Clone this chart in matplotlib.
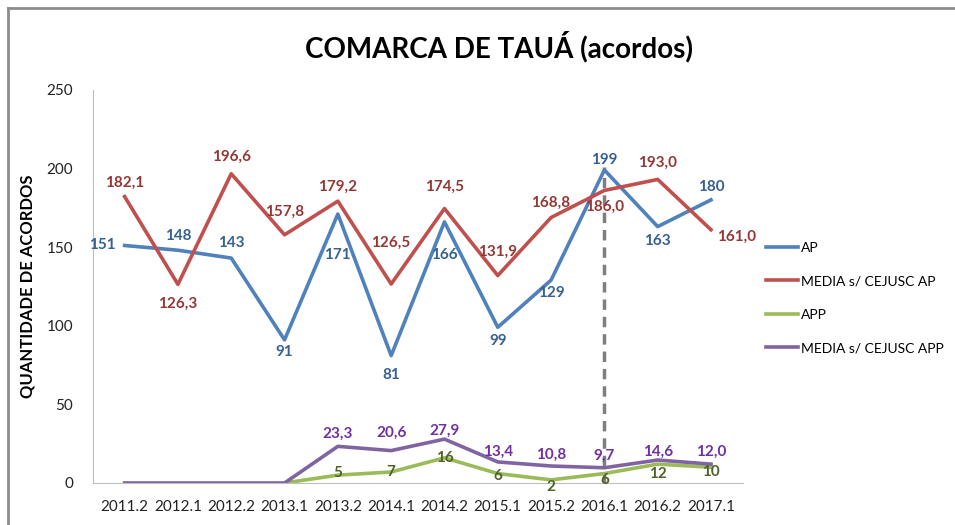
import matplotlib.pyplot as plt
import numpy as np
from matplotlib.lines import Line2D

plt.rcParams['font.family'] = ['Lato', 'DejaVu Sans']

periodos = ['2011.2', '2012.1', '2012.2', '2013.1', '2013.2', '2014.1', '2014.2',
            '2015.1', '2015.2', '2016.1', '2016.2', '2017.1']
ap = [151, 148, 143, 91, 171, 81, 166, 99, 129, 199, 163, 180]
media_ap = [182.1, 126.3, 196.6, 157.8, 179.2, 126.5, 174.5, 131.9, 168.8, 186.0, 193.0, 161.0]
app = [np.nan, np.nan, np.nan, 0, 5, 7, 16, 6, 2, 6, 12, 10]
media_app = [0, 0, 0, 0, 23.3, 20.6, 27.9, 13.4, 10.8, 9.7, 14.6, 12.0]

# deslocamento dos rotulos (dx, dy) em pixels
pos_ap = [(-22, 0), (0, 14), (0, 15), (0, -12), (0, -41), (0, -19), (0, -33),
          (0, -14), (0, -13), (0, 10), (0, -14), (0, 13)]
pos_map = [(0, 14), (0, -19), (0, 17), (0, 23), (0, 14), (0, 41), (0, 22),
           (0, 24), (0, 15), (0, -16), (0, 17), (26, -7)]
pos_app = [None, None, None, None, (0, 2), (0, 0), (0, 0), (0, -2), (0, -7),
           (0, -6), (0, -10), (0, -5)]
pos_mapp = [None, None, None, None, (0, 13), (0, 18), (0, 8), (0, 10), (0, 11),
            (0, 12), (0, 8), (0, 12)]

fig = plt.figure(figsize=(9.55, 5.25), dpi=100)
ax = fig.add_axes([0.097, 0.08, 0.681, 0.749])
x = np.arange(len(periodos))

ax.plot(x, ap, color='#4F81BD', lw=2.6, label='AP')
ax.plot(x, media_ap, color='#C0504D', lw=2.6, label='MEDIA s/ CEJUSC AP')
ax.plot(x, app, color='#9BBB59', lw=2.6, label='APP')
ax.plot(x, media_app, color='#8064A2', lw=2.6, label='MEDIA s/ CEJUSC APP')

ax.plot([9, 9], [0, 201], color='#7F7F7F', lw=2.5, ls=(0, (3, 2)), zorder=1)

lab = dict(fontsize=11, fontweight='bold', ha='center', va='center',
           textcoords='offset pixels')
for i, v in enumerate(ap):
    ax.annotate(f'{v}', (i, v), xytext=pos_ap[i], color='#376092', **lab)
for i, v in enumerate(media_ap):
    ax.annotate(f'{v:.1f}'.replace('.', ','), (i, v), xytext=pos_map[i],
                color='#953735', **lab)
for i, v in enumerate(app):
    if pos_app[i] is None:
        continue
    ax.annotate(f'{v:g}', (i, v), xytext=pos_app[i], color='#4F6228', **lab)
for i, v in enumerate(media_app):
    if pos_mapp[i] is None:
        continue
    ax.annotate(f'{v:.1f}'.replace('.', ','), (i, v), xytext=pos_mapp[i],
                color='#7030A0', **lab)

ax.set_xlim(-0.6, 11.6)
ax.set_ylim(0, 250)
ax.set_yticks(range(0, 251, 50))
ax.set_xticks(x)
ax.set_xticklabels(periodos)
ax.tick_params(length=0, labelsize=11, colors='#222222')
ax.tick_params(axis='y', pad=14)
ax.tick_params(axis='x', pad=12)
for s in ['top', 'right']:
    ax.spines[s].set_visible(False)
for s in ['left', 'bottom']:
    ax.spines[s].set_color('#BFBFBF')

ax.set_ylabel('QUANTIDADE DE ACORDOS', fontsize=12, fontweight='bold', labelpad=8)
fig.text(0.523, 0.912, 'COMARCA DE TAUÁ (acordos)', fontsize=20, fontweight='bold',
         ha='center', va='center')

ax.legend(loc='center left', frameon=False, fontsize=10, handlelength=2.3,
          labelspacing=1.55, handletextpad=0.2, borderaxespad=0, borderpad=0,
          bbox_to_anchor=(766 / 955, 1 - 298 / 525), bbox_transform=fig.transFigure)

fig.add_artist(Line2D([8 / 955, 1], [1 - 8 / 525, 1 - 8 / 525], color='#8C8C8C', lw=2,
                      transform=fig.transFigure))
fig.add_artist(Line2D([8 / 955, 8 / 955], [0, 1 - 8 / 525], color='#8C8C8C', lw=2,
                      transform=fig.transFigure))

fig.savefig('out.png', dpi=100)
